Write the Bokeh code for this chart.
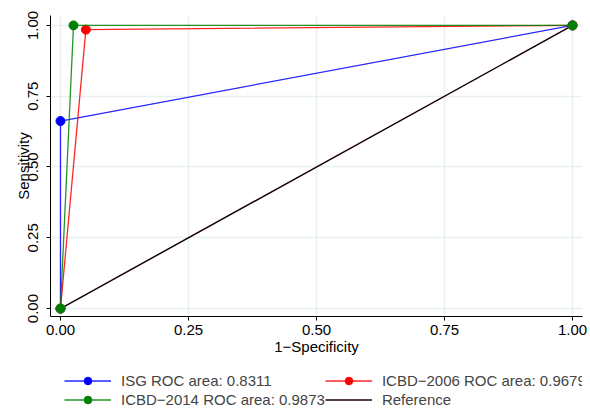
from bokeh.plotting import figure
from bokeh.layouts import column
from bokeh.models import Legend, LegendItem, FixedTicker, NumeralTickFormatter, Range1d
from bokeh.embed import file_html
from bokeh.resources import INLINE

# Data
isg_x = [0.0, 0.0, 1.0]
isg_y = [0.0, 0.6622, 1.0]
icbd06_x = [0.0, 0.0496, 1.0]
icbd06_y = [0.0, 0.985, 1.0]
icbd14_x = [0.0, 0.0254, 1.0]
icbd14_y = [0.0, 1.0, 1.0]
ref_x = [0.0, 1.0]
ref_y = [0.0, 1.0]
ticks = [0, 0.25, 0.5, 0.75, 1.0]
labels = ["ISG ROC area: 0.8311", "ICBD\u22122006 ROC area: 0.9679",
          "ICBD\u22122014 ROC area: 0.9873", "Reference"]

FONT = "Liberation Sans"
FS = "15px"

BLUE, RED, GREEN, REF = "#0000ff", "#ff0000", "#008000", "#1a0000"

p = figure(width=590, height=359, output_backend="svg", toolbar_location=None,
           x_range=Range1d(-0.0195, 1.0195), y_range=Range1d(-0.028, 1.035),
           min_border_left=50, min_border_right=8, min_border_top=15, min_border_bottom=43)
p.outline_line_color = None
p.background_fill_color = "white"
p.border_fill_color = "white"

for ax in (p.xaxis[0], p.yaxis[0]):
    ax.ticker = FixedTicker(ticks=ticks)
    ax.formatter = NumeralTickFormatter(format="0.00")
    ax.major_label_text_font = FONT
    ax.major_label_text_font_size = FS
    ax.major_label_text_color = "black"
    ax.axis_label_text_font = FONT
    ax.axis_label_text_font_size = FS
    ax.axis_label_text_font_style = "normal"
    ax.axis_label_text_color = "black"
    ax.minor_tick_line_color = None
    ax.major_tick_out = 4
    ax.major_tick_in = 0
    ax.axis_line_color = "black"
    ax.major_tick_line_color = "black"

p.xaxis.axis_label = "1\u2212Specificity"
p.yaxis.axis_label = "Sensitivity"
p.yaxis.major_label_orientation = "vertical"
p.xaxis.major_label_standoff = 4
p.yaxis.major_label_standoff = 8
p.xaxis.axis_label_standoff = 0
p.yaxis.axis_label_standoff = -6

p.xgrid.ticker = FixedTicker(ticks=ticks)
p.ygrid.ticker = FixedTicker(ticks=ticks)
p.grid.grid_line_color = "#e8f0f2"
p.grid.grid_line_width = 1.5

p.line(ref_x, ref_y, line_color=REF, line_width=1.5)
p.line(isg_x, isg_y, line_color=BLUE, line_width=1.3, line_alpha=0.85)
p.scatter(isg_x, isg_y, size=9, color=BLUE)
p.line(icbd06_x, icbd06_y, line_color=RED, line_width=1.3, line_alpha=0.85)
p.scatter(icbd06_x, icbd06_y, size=9, color=RED)
p.line(icbd14_x, icbd14_y, line_color=GREEN, line_width=1.3, line_alpha=0.85)
p.scatter(icbd14_x, icbd14_y, size=9, color=GREEN)

# Legend strip below the chart (same series, kept out of its view range)
q = figure(width=590, height=50, output_backend="svg", toolbar_location=None,
           x_range=Range1d(10, 11), y_range=Range1d(10, 11),
           min_border_left=0, min_border_right=0, min_border_top=0, min_border_bottom=0)
q.axis.visible = False
q.grid.visible = False
q.outline_line_color = None
q.background_fill_color = "white"
q.border_fill_color = "white"

l_isg = q.line(isg_x, isg_y, line_color=BLUE, line_width=1.3, line_alpha=0.85)
s_isg = q.scatter(isg_x, isg_y, size=9, color=BLUE)
l_06 = q.line(icbd06_x, icbd06_y, line_color=RED, line_width=1.3, line_alpha=0.85)
s_06 = q.scatter(icbd06_x, icbd06_y, size=9, color=RED)
l_14 = q.line(icbd14_x, icbd14_y, line_color=GREEN, line_width=1.3, line_alpha=0.85)
s_14 = q.scatter(icbd14_x, icbd14_y, size=9, color=GREEN)
l_ref = q.line(ref_x, ref_y, line_color=REF, line_width=1.5)

legend = Legend(items=[
    LegendItem(label=labels[0], renderers=[l_isg, s_isg]),
    LegendItem(label=labels[2], renderers=[l_14, s_14]),
    LegendItem(label=labels[1], renderers=[l_06, s_06]),
    LegendItem(label=labels[3], renderers=[l_ref]),
], ncols=2, location=(14, 0), border_line_color=None, background_fill_alpha=0,
   padding=0, margin=0, spacing=0, glyph_width=47, glyph_height=19, label_height=19,
   label_standoff=10, label_text_font=FONT, label_text_font_size=FS)
q.add_layout(legend, "center")

layout = column(p, q, spacing=0)
open("out.html", "w").write(file_html(layout, INLINE))
